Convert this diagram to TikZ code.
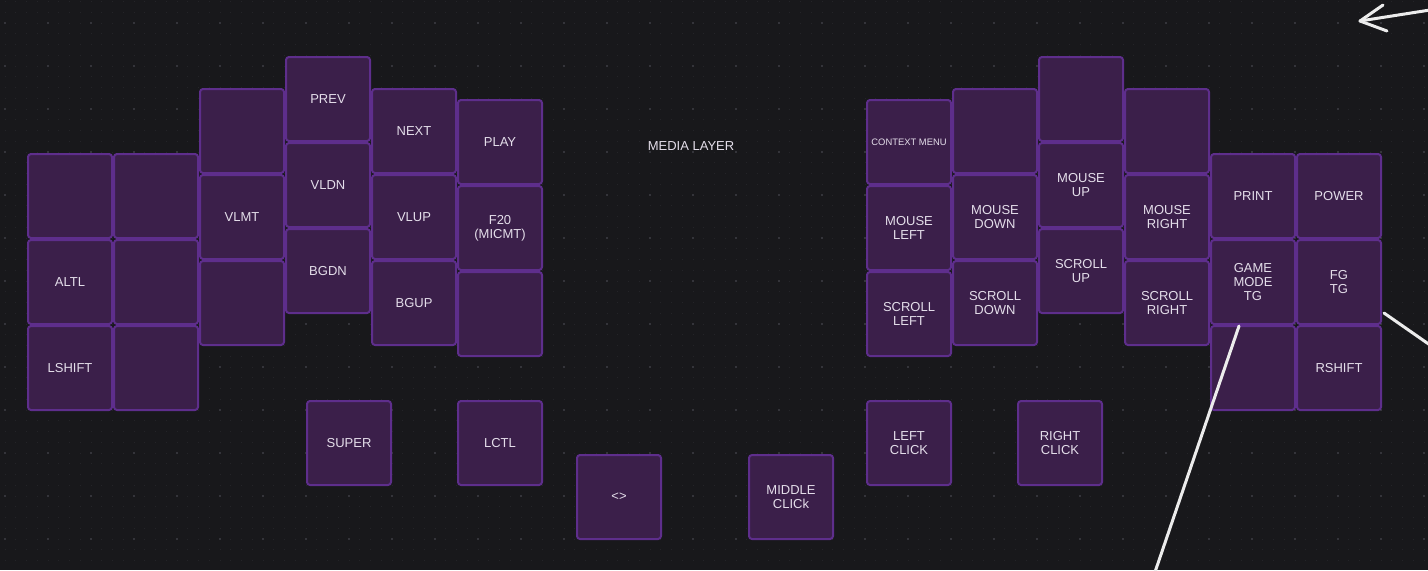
\documentclass[tikz,border=0pt]{standalone}
\usepackage{fontspec}
\setmainfont{Liberation Sans}
\usetikzlibrary{arrows.meta}

\definecolor{boarddark}{RGB}{24,24,27}
\definecolor{dotfaint}{RGB}{36,36,40}
\definecolor{dotmajor}{RGB}{52,52,58}
\definecolor{keyfill}{RGB}{59,31,74}
\definecolor{keyedge}{RGB}{94,46,140}
\definecolor{keytext}{RGB}{228,222,234}
\definecolor{strokewhite}{RGB}{236,236,236}

\tikzset{
    keycap/.style={draw=keyedge, fill=keyfill, line width=1pt, rounded corners=1.5pt,
        minimum width=42pt, minimum height=42pt, inner sep=0pt, align=center,
        text=keytext, font=\fontsize{6.5}{7}\selectfont},
    smallcap/.style={keycap, font=\fontsize{4.7}{5.5}\selectfont},
    penstroke/.style={draw=strokewhite, line width=1.5pt, line cap=round, line join=round}
}

\begin{document}
\begin{tikzpicture}[x=0.5pt, y=-0.5pt]

% Board
\fill[boarddark] (0,0) rectangle (1428,570);
\useasboundingbox (0,0) rectangle (1428,570);

% Dot grid
\foreach \gy in {1.5,12.25,...,570}
    \draw[dotfaint, line width=0.5pt, dash pattern=on 0.5pt off 4.875pt] (4.5,\gy) -- (1428,\gy);
\foreach \gy in {23,66,...,570}
    \draw[dotmajor, line width=0.6pt, dash pattern=on 0.6pt off 20.9pt] (4.4,\gy) -- (1428,\gy);

% Title
\node[text=keytext, font=\fontsize{6.5}{7}\selectfont] (title) at (691,146) {MEDIA LAYER};

% Left half
\node[keycap] (l11) at (70,196) {};
\node[keycap] (l12) at (70,282) {ALTL};
\node[keycap] (l13) at (70,368) {LSHIFT};
\node[keycap] (l21) at (156,196) {};
\node[keycap] (l22) at (156,282) {};
\node[keycap] (l23) at (156,368) {};
\node[keycap] (l31) at (242,131) {};
\node[keycap] (l32) at (242,217) {VLMT};
\node[keycap] (l33) at (242,303) {};
\node[keycap] (l41) at (328,99) {PREV};
\node[keycap] (l42) at (328,185) {VLDN};
\node[keycap] (l43) at (328,271) {BGDN};
\node[keycap] (l51) at (414,131) {NEXT};
\node[keycap] (l52) at (414,217) {VLUP};
\node[keycap] (l53) at (414,303) {BGUP};
\node[keycap] (l61) at (500,142) {PLAY};
\node[keycap] (l62) at (500,228) {F20\\(MICMT)};
\node[keycap] (l63) at (500,314) {};

% Left thumbs
\node[keycap] (super) at (349,443) {SUPER};
\node[keycap] (lctl) at (500,443) {LCTL};
\node[keycap] (angle) at (619,497) {<>};
\node[keycap] (mclick) at (791,497) {MIDDLE\\CLICk};

% Right half
\node[smallcap] (r11) at (909,142) {CONTEXT MENU};
\node[keycap] (r12) at (909,228) {MOUSE\\LEFT};
\node[keycap] (r13) at (909,314) {SCROLL\\LEFT};
\node[keycap] (r21) at (995,131) {};
\node[keycap] (r22) at (995,217) {MOUSE\\DOWN};
\node[keycap] (r23) at (995,303) {SCROLL\\DOWN};
\node[keycap] (r31) at (1081,99) {};
\node[keycap] (r32) at (1081,185) {MOUSE\\UP};
\node[keycap] (r33) at (1081,271) {SCROLL\\UP};
\node[keycap] (r41) at (1167,131) {};
\node[keycap] (r42) at (1167,217) {MOUSE\\RIGHT};
\node[keycap] (r43) at (1167,303) {SCROLL\\RIGHT};
\node[keycap] (r51) at (1253,196) {PRINT};
\node[keycap] (r52) at (1253,282) {GAME\\MODE\\TG};
\node[keycap] (r53) at (1253,368) {};
\node[keycap] (r61) at (1339,196) {POWER};
\node[keycap] (r62) at (1339,282) {FG\\TG};
\node[keycap] (r63) at (1339,368) {RSHIFT};

% Right thumbs
\node[keycap] (lclick) at (909,443) {LEFT\\CLICK};
\node[keycap] (rclick) at (1060,443) {RIGHT\\CLICK};

% Pen strokes
\coordinate (tipA) at (1360,21);
\coordinate (tailA) at (1430,10);
\coordinate (armA) at (1383,5);
\coordinate (armB) at (1387,31);
\draw[penstroke] (tailA) -- (tipA);
\draw[penstroke] (armA) -- (tipA) -- (armB);

\coordinate (fgfrom) at (1384,313);
\coordinate (fgto) at (1430,345);
\draw[penstroke] (fgfrom) -- (fgto);

\coordinate (gmfrom) at (1239,326);
\coordinate (gmto) at (1155,572);
\draw[penstroke] (gmfrom) -- (gmto);

\end{tikzpicture}
\end{document}
